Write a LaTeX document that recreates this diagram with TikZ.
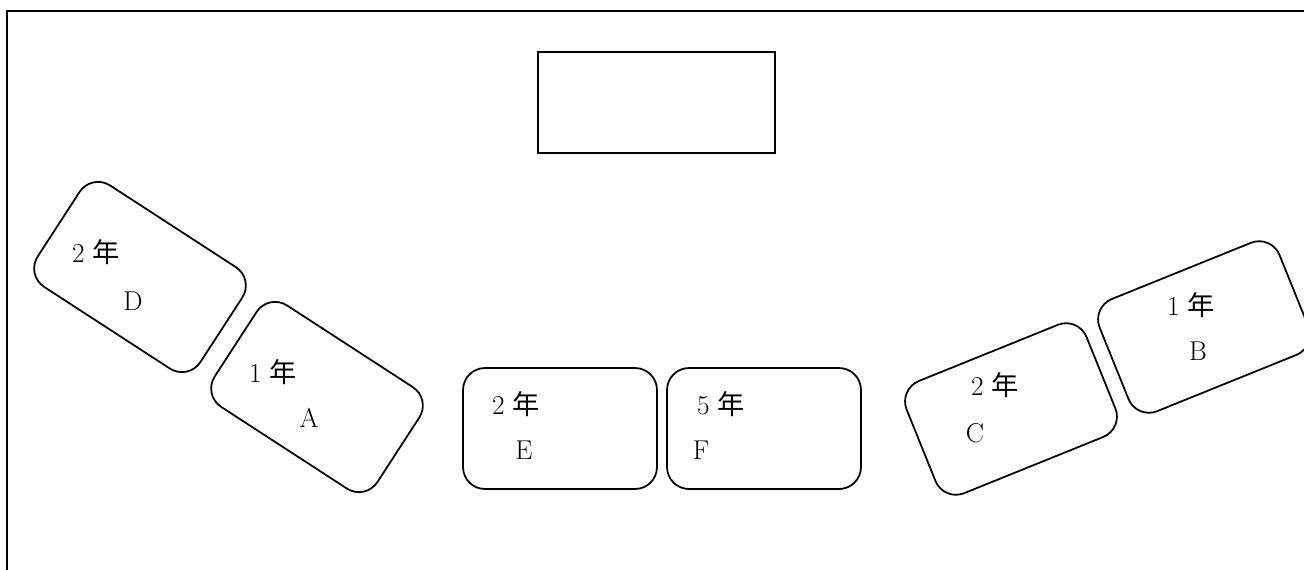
\documentclass[tikz,border=0pt]{standalone}
\usepackage{fontspec}
\newfontfamily\jpfont{Noto Sans CJK JP}
\usepackage{tikz}
\usetikzlibrary{positioning}

\newcommand{\nen}[1]{#1\hspace{0.3em}{\jpfont 年}}

\tikzset{
  desk/.style={draw, line width=1pt, rounded corners=0.44cm,
    minimum width=3.88cm, minimum height=2.42cm},
  lbl/.style={inner sep=0pt, font=\fontsize{15.5}{18}\selectfont}
}

\begin{document}
\begin{tikzpicture}[x=0.02cm, y=-0.02cm]
        \useasboundingbox (0,0) rectangle (1304,569);

        % Outer frame
        \draw[line width=1.3pt] (7,580) -- (7,11) -- (1320,11);

        % Teacher's table
        \node[draw, line width=1pt, minimum width=4.74cm, minimum height=2.02cm] (table) at (656.5,102.5) {};

        % Left group
        \node[desk, rotate=-33] (deskD) at (140,277) {};
        \node[desk, rotate=-33] (deskA) at (317,397) {};

        % Middle group
        \node[desk] (deskE) at (560,428.5) {};
        \node[desk] (deskF) at (764,428.5) {};

        % Right group
        \node[desk, rotate=22] (deskC) at (1011,409) {};
        \node[desk, rotate=22] (deskB) at (1204,327) {};

        % Labels
        \node[lbl] (gradeD) at (96,252) {\nen{2}};
        \node[lbl] (nameD)  at (133,301) {D};
        \node[lbl] (gradeA) at (273,372) {\nen{1}};
        \node[lbl] (nameA)  at (309,418) {A};
        \node[lbl] (gradeE) at (516,404) {\nen{2}};
        \node[lbl] (nameE)  at (524,450) {E};
        \node[lbl] (gradeF) at (721,404) {\nen{5}};
        \node[lbl] (nameF)  at (701,450) {F};
        \node[lbl] (gradeC) at (995,385) {\nen{2}};
        \node[lbl] (nameC)  at (975,433) {C};
        \node[lbl] (gradeB) at (1191,305) {\nen{1}};
        \node[lbl] (nameB)  at (1198,351) {B};
\end{tikzpicture}
\end{document}
